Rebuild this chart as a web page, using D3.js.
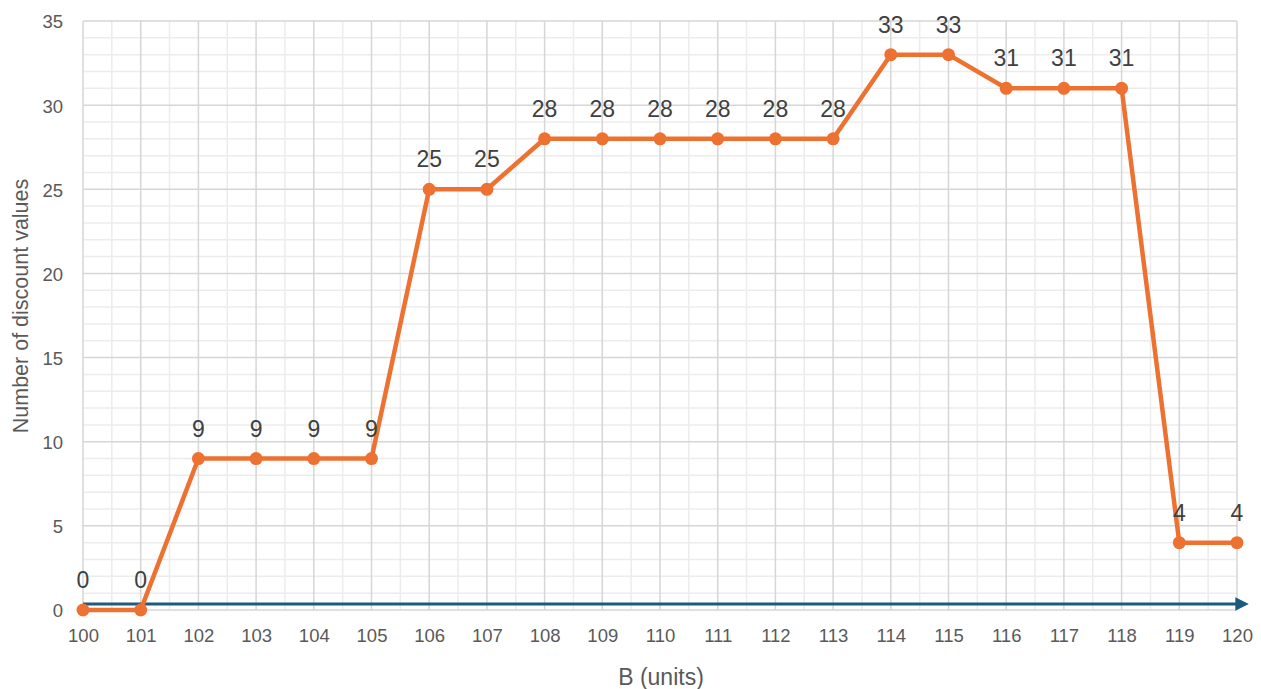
<!DOCTYPE html>
<html>
<head>
<meta charset="utf-8">
<script src="https://cdn.jsdelivr.net/npm/d3@7"></script>
<style>
  html, body { margin: 0; padding: 0; background: #fff; }
  svg { display: block; font-family: "Liberation Sans", Arial, sans-serif; }
</style>
</head>
<body>
<svg id="chart" width="1261" height="689"></svg>
<script>
// Units of B on the horizontal axis
const bUnits = [100, 101, 102, 103, 104, 105, 106, 107, 108, 109, 110,
                111, 112, 113, 114, 115, 116, 117, 118, 119, 120];
// Number of discount values found at each B
const discountCounts = [0, 0, 9, 9, 9, 9, 25, 25, 28, 28, 28,
                        28, 28, 28, 33, 33, 31, 31, 31, 4, 4];
const yTicks = [0, 5, 10, 15, 20, 25, 30, 35];
const xTitle = "B (units)";
const yTitle = "Number of discount values";
// Height of the baseline arrow, in chart units
const arrowLevel = 0.35;

const svg = d3.select("#chart");
const plotLeft = 83, plotRight = 1237, plotTop = 21, plotBottom = 610;

const x = d3.scaleLinear().domain([100, 120]).range([plotLeft, plotRight]);
const y = d3.scaleLinear().domain([0, 35]).range([plotBottom, plotTop]);

// Minor grid: every half unit across, every unit up
const grid = svg.append("g");
grid.selectAll("line.vminor")
  .data(d3.range(100.5, 120, 1))
  .join("line")
  .attr("x1", d => x(d)).attr("x2", d => x(d))
  .attr("y1", plotTop).attr("y2", plotBottom)
  .attr("stroke", "#ececec").attr("stroke-width", 1.5);
grid.selectAll("line.hminor")
  .data(d3.range(0, 36, 1).filter(v => v % 5 !== 0))
  .join("line")
  .attr("x1", plotLeft).attr("x2", plotRight)
  .attr("y1", d => y(d)).attr("y2", d => y(d))
  .attr("stroke", "#ececec").attr("stroke-width", 1.5);
// Major grid
grid.selectAll("line.vmajor")
  .data(bUnits)
  .join("line")
  .attr("x1", d => x(d)).attr("x2", d => x(d))
  .attr("y1", plotTop).attr("y2", plotBottom)
  .attr("stroke", "#d6d6d6").attr("stroke-width", 1.5);
grid.selectAll("line.hmajor")
  .data(yTicks)
  .join("line")
  .attr("x1", plotLeft).attr("x2", plotRight)
  .attr("y1", d => y(d)).attr("y2", d => y(d))
  .attr("stroke", "#d6d6d6").attr("stroke-width", 1.5);

// Axes (labels only)
const xAxis = svg.append("g")
  .attr("transform", `translate(0,${plotBottom + 19})`)
  .call(d3.axisBottom(x).tickValues(bUnits).tickFormat(d3.format("d")).tickSize(0).tickPadding(0));
xAxis.select(".domain").remove();
xAxis.selectAll("text")
  .attr("dy", "0.71em")
  .attr("y", 0)
  .attr("font-size", 18.5).attr("fill", "#595959")
  .attr("font-family", "Liberation Sans, Arial, sans-serif");

const yAxis = svg.append("g")
  .attr("transform", `translate(${plotLeft - 20},1)`)
  .call(d3.axisLeft(y).tickValues(yTicks).tickSize(0).tickPadding(0));
yAxis.select(".domain").remove();
yAxis.selectAll("text")
  .attr("font-size", 18.5).attr("fill", "#595959")
  .attr("font-family", "Liberation Sans, Arial, sans-serif");

// Axis titles
svg.append("text")
  .attr("x", 661).attr("y", 685)
  .attr("text-anchor", "middle")
  .attr("font-size", 23).attr("fill", "#595959")
  .text(xTitle);
svg.append("text")
  .attr("transform", "translate(28,306) rotate(-90)")
  .attr("text-anchor", "middle")
  .attr("font-size", 21.5).attr("fill", "#595959")
  .text(yTitle);

// Baseline arrow
const defs = svg.append("defs");
defs.append("marker")
  .attr("id", "arrowHead")
  .attr("viewBox", "0 0 10 10")
  .attr("refX", 2).attr("refY", 5)
  .attr("markerWidth", 4.5).attr("markerHeight", 4.5)
  .attr("orient", "auto")
  .append("path")
  .attr("d", "M0,0 L10,5 L0,10 Z")
  .attr("fill", "#1d5b7e");
svg.append("line")
  .attr("x1", x(100)).attr("x2", x(120) + 1)
  .attr("y1", y(arrowLevel)).attr("y2", y(arrowLevel))
  .attr("stroke", "#1d5b7e").attr("stroke-width", 3)
  .attr("marker-end", "url(#arrowHead)");

// Data series
const points = bUnits.map((b, i) => ({ b, v: discountCounts[i] }));
svg.append("path")
  .datum(points)
  .attr("fill", "none")
  .attr("stroke", "#ed7232")
  .attr("stroke-width", 4.5)
  .attr("stroke-linejoin", "round")
  .attr("d", d3.line().x(d => x(d.b)).y(d => y(d.v)));

svg.append("g").selectAll("circle")
  .data(points)
  .join("circle")
  .attr("cx", d => x(d.b)).attr("cy", d => y(d.v))
  .attr("r", 6.5)
  .attr("fill", "#ed7232");

// Value labels
svg.append("g").selectAll("text")
  .data(points)
  .join("text")
  .attr("x", d => x(d.b)).attr("y", d => y(d.v) - 22)
  .attr("text-anchor", "middle")
  .attr("font-size", 23).attr("fill", "#404040")
  .text(d => d.v);
</script>
</body>
</html>
